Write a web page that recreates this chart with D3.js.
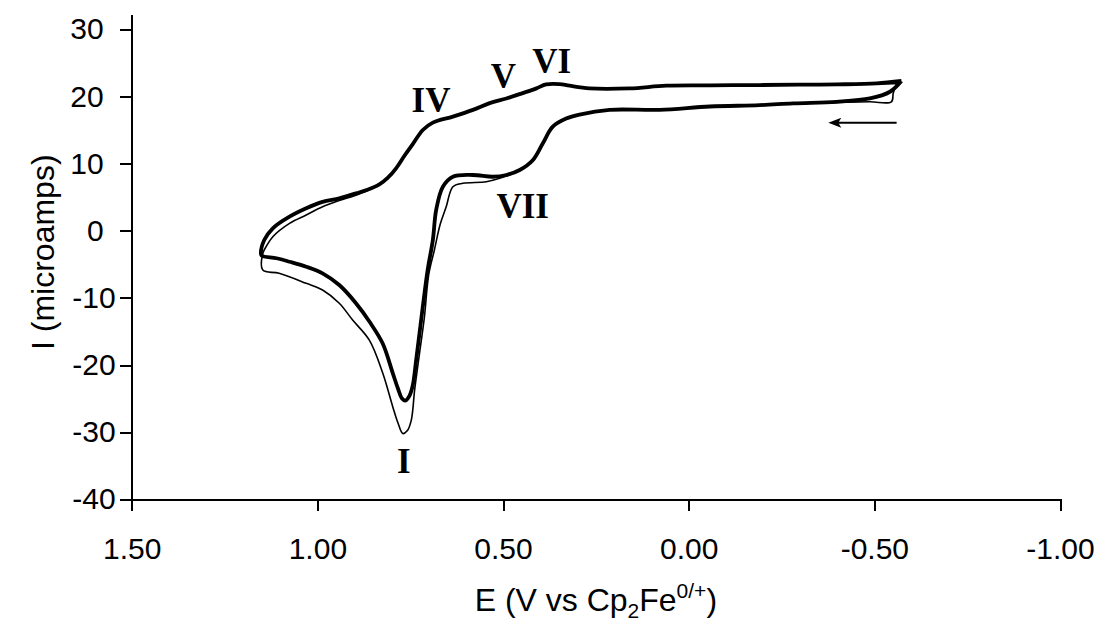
<!DOCTYPE html>
<html>
<head>
<meta charset="utf-8">
<script src="https://cdn.jsdelivr.net/npm/d3@7"></script>
<style>
  body { margin: 0; background: #fff; }
  svg { display: block; background: #fff; }
  .axis path, .axis line { stroke: #000; stroke-width: 2px; shape-rendering: crispEdges; }
  .axis text { font-family: "Liberation Sans", Arial, sans-serif; font-size: 30px; fill: #000; }
  .axis-title { font-family: "Liberation Sans", Arial, sans-serif; font-size: 32px; fill: #000; }
  .peak-label { font-family: "Liberation Serif", "Times New Roman", serif; font-weight: bold; font-size: 35px; fill: #000; }
</style>
</head>
<body>
<div id="chart"></div>
<script>
// [E (V vs Cp2Fe), I (uA)], each scan a closed loop
// starting at the switching potential on the right
var scanThick = [
  [-0.573, 22.3], [-0.506, 21.95], [-0.40, 21.8], [-0.30, 21.75], [-0.191, 21.7],
  [-0.06, 21.65], [0.060, 21.6], [0.159, 21.2], [0.267, 21.2], [0.321, 21.6],
  [0.348, 21.85], [0.384, 21.8], [0.410, 21.2], [0.447, 20.5], [0.491, 19.7],
  [0.536, 19.0], [0.581, 18.0], [0.635, 17.0], [0.689, 16.1], [0.716, 15.0],
  [0.743, 12.9], [0.765, 11.2], [0.788, 9.3], [0.810, 7.9], [0.833, 6.9],
  [0.865, 6.1], [0.896, 5.57], [0.941, 4.83], [0.986, 4.3], [1.030, 3.34],
  [1.075, 2.09], [1.120, 0.36], [1.143, -1.39], [1.152, -3.37],
  [1.150, -3.7], [1.110, -4.1], [1.075, -4.62], [1.030, -5.36], [0.986, -6.34],
  [0.941, -8.09], [0.896, -10.8], [0.859, -13.6], [0.824, -16.8], [0.797, -21.2],
  [0.783, -23.5], [0.772, -25.0], [0.763, -25.3], [0.752, -24.6], [0.743, -23.0],
  [0.734, -19.3], [0.716, -11.3], [0.703, -5.85], [0.689, -1.4], [0.680, 3.1],
  [0.662, 6.55], [0.635, 8.04], [0.581, 8.3], [0.527, 8.04], [0.491, 8.3],
  [0.455, 9.04], [0.420, 10.5], [0.393, 13.0], [0.366, 15.5], [0.330, 16.7],
  [0.294, 17.3], [0.213, 18.0], [0.078, 18.0], [-0.057, 18.5], [-0.191, 18.7],
  [-0.281, 18.97], [-0.398, 19.2], [-0.488, 19.7], [-0.542, 20.7], [-0.573, 22.3]
];

var scanThin = [
  [-0.560, 21.9], [-0.506, 21.9], [-0.40, 21.8], [-0.30, 21.75], [-0.191, 21.7],
  [-0.06, 21.65], [0.060, 21.6], [0.159, 21.2], [0.267, 21.2], [0.321, 21.6],
  [0.348, 21.85], [0.384, 21.8], [0.410, 21.2], [0.447, 20.5], [0.491, 19.7],
  [0.536, 19.0], [0.581, 18.0], [0.635, 17.0], [0.689, 16.1], [0.716, 15.0],
  [0.743, 12.9], [0.765, 11.2], [0.788, 9.3], [0.810, 7.9], [0.833, 6.9],
  [0.865, 6.0], [0.896, 5.3], [0.941, 4.5], [0.986, 3.57], [1.030, 2.34],
  [1.075, 1.10], [1.120, -0.89], [1.138, -2.38], [1.147, -3.4], [1.147, -5.85],
  [1.103, -6.34], [1.030, -7.83], [0.986, -8.83], [0.941, -10.8], [0.905, -13.3],
  [0.860, -16.3], [0.824, -21.2], [0.797, -26.2], [0.783, -28.6], [0.770, -30.2],
  [0.758, -29.8], [0.747, -28.2], [0.738, -23.7], [0.725, -18.3], [0.712, -13.0],
  [0.700, -6.5], [0.685, -2.9], [0.669, 1.0], [0.653, 3.57], [0.635, 6.55],
  [0.608, 7.06], [0.545, 7.3], [0.509, 7.8], [0.455, 9.0], [0.420, 10.5],
  [0.393, 13.0], [0.366, 15.5], [0.330, 16.7], [0.294, 17.3], [0.213, 18.0],
  [0.078, 18.0], [-0.057, 18.5], [-0.191, 18.7], [-0.281, 18.9], [-0.398, 19.1],
  [-0.488, 19.2], [-0.546, 19.2], [-0.551, 20.5], [-0.560, 21.9]
];

var xTicks = [1.5, 1.0, 0.5, 0.0, -0.5, -1.0];
var yTicks = [30, 20, 10, 0, -10, -20, -30, -40];

// peak labels, anchored (centre, baseline) in data units
var peakNames = ["IV", "V", "VI", "VII", "I"];
var peakE = [0.694, 0.499, 0.369, 0.447, 0.767];
var peakI = [17.7, 21.25, 23.5, 1.9, -36.1];

// scan direction arrow
var arrowE = [-0.560, -0.376];
var arrowI = 16.1;

var width = 1103, height = 631;
var margin = { top: 29.3, right: 43, bottom: 131.7, left: 131.7 };

var x = d3.scaleLinear()
  .domain([1.5, -1.0])
  .range([margin.left, width - margin.right]);
var y = d3.scaleLinear()
  .domain([-40, 30])
  .range([height - margin.bottom, margin.top]);

var svg = d3.select('#chart').append('svg')
  .attr('width', width)
  .attr('height', height);

// axes
var gx = svg.append('g')
  .attr('class', 'axis')
  .attr('transform', 'translate(0,' + y(-40) + ')')
  .call(d3.axisBottom(x)
    .tickValues(xTicks)
    .tickFormat(function(d) { return d.toFixed(2); })
    .tickSize(12)
    .tickPadding(26)
    .tickSizeOuter(0));

var gy = svg.append('g')
  .attr('class', 'axis')
  .attr('transform', 'translate(' + x(1.5) + ',0)')
  .call(d3.axisLeft(y)
    .tickValues(yTicks)
    .tickFormat(function(d) { return String(d); })
    .tickSize(12)
    .tickPadding(4)
    .tickSizeOuter(0));
// positive labels sit a little further from the ticks, like the original
gy.selectAll('.tick text').attr('dx', function(d) { return d >= 0 ? -12 : 0; });
// vertical axis runs a bit past the top tick
gy.select('.domain').attr('d', 'M0,' + y(-40) + 'V' + (y(30) - 14));

// traces
var line = d3.line()
  .x(function(d) { return x(d[0]); })
  .y(function(d) { return y(d[1]); })
  .curve(d3.curveCatmullRom.alpha(0.5));

svg.append('path')
  .datum(scanThin)
  .attr('fill', 'none')
  .attr('stroke', '#000')
  .attr('stroke-width', 1.6)
  .attr('stroke-linejoin', 'round')
  .attr('d', line);

svg.append('path')
  .datum(scanThick)
  .attr('fill', 'none')
  .attr('stroke', '#000')
  .attr('stroke-width', 3.8)
  .attr('stroke-linejoin', 'round')
  .attr('d', line);

// peak labels
svg.selectAll('.peak-label')
  .data(peakNames)
  .enter().append('text')
  .attr('class', 'peak-label')
  .attr('text-anchor', 'middle')
  .attr('x', function(d, i) { return x(peakE[i]); })
  .attr('y', function(d, i) { return y(peakI[i]); })
  .text(function(d) { return d; });

// arrow
var ax0 = x(arrowE[0]), ax1 = x(arrowE[1]), ay = y(arrowI);
svg.append('line')
  .attr('x1', ax0).attr('y1', ay)
  .attr('x2', ax1 + 8).attr('y2', ay)
  .attr('stroke', '#000')
  .attr('stroke-width', 2);
svg.append('path')
  .attr('d', 'M' + ax1 + ',' + ay + 'L' + (ax1 + 13) + ',' + (ay - 5) + 'L' + (ax1 + 10) + ',' + ay + 'L' + (ax1 + 13) + ',' + (ay + 5) + 'Z')
  .attr('fill', '#000');

// axis titles
svg.append('text')
  .attr('class', 'axis-title')
  .attr('transform', 'translate(54,' + (y(-3.2)) + ') rotate(-90)')
  .attr('text-anchor', 'middle')
  .text('I (microamps)');

var xt = svg.append('text')
  .attr('class', 'axis-title')
  .attr('x', x(0.25))
  .attr('y', 611)
  .attr('text-anchor', 'middle');
xt.append('tspan').text('E (V vs Cp');
xt.append('tspan').attr('font-size', '21px').attr('dy', 7).text('2');
xt.append('tspan').attr('dy', -7).text('Fe');
xt.append('tspan').attr('font-size', '21px').attr('dy', -13).text('0/+');
xt.append('tspan').attr('dy', 13).text(')');
</script>
</body>
</html>
